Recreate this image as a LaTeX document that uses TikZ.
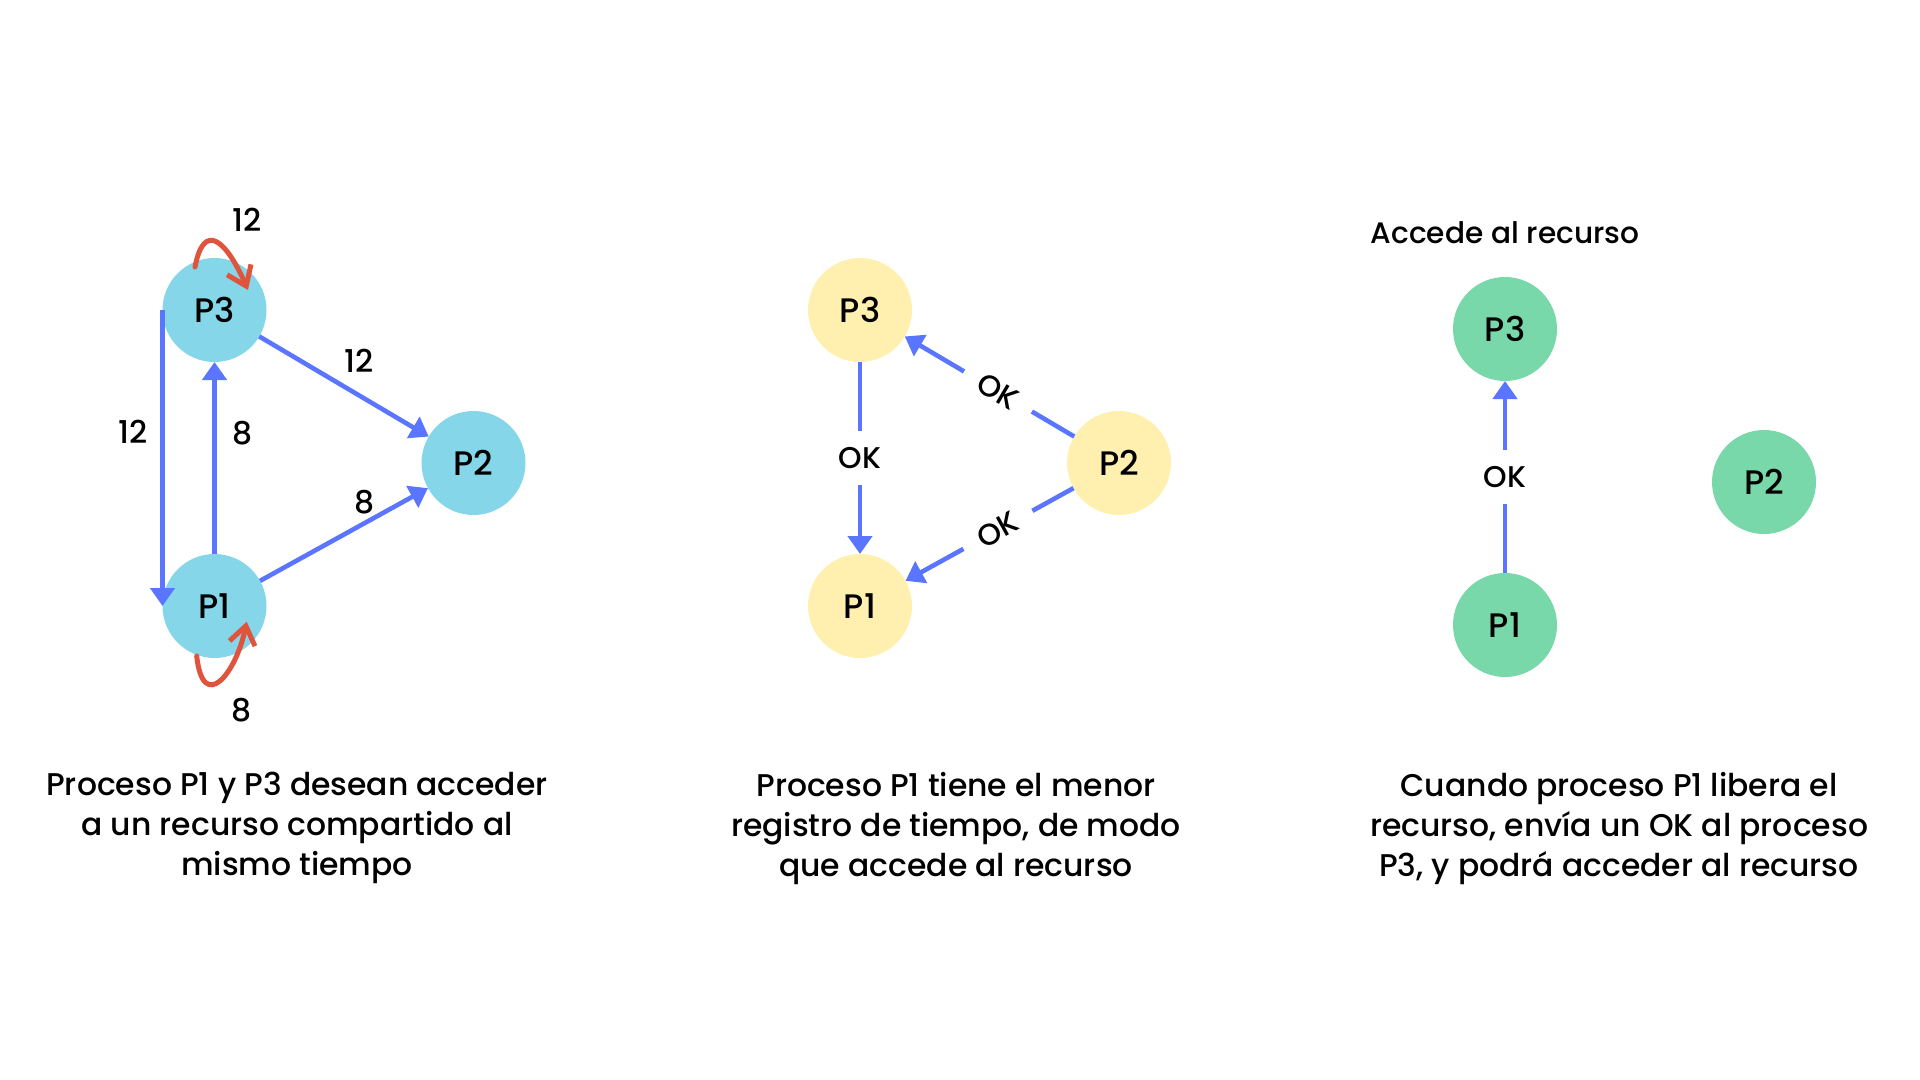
\documentclass[tikz,border=0pt]{standalone}
\usepackage{fontspec}
\setmainfont{Poppins}[UprightFont=* Medium]
\usepackage{tikz}
\usetikzlibrary{positioning}
\usetikzlibrary{calc}
\usetikzlibrary{arrows.meta}
\definecolor{cyanproc}{HTML}{86D6E9}
\definecolor{yellowproc}{HTML}{FFF0B0}
\definecolor{greenproc}{HTML}{78D8A9}
\definecolor{msgblue}{HTML}{5A75FF}
\definecolor{loopred}{HTML}{E0533D}

\begin{document}
\begin{tikzpicture}[x=0.5pt, y=-0.5pt, on grid, >={Triangle[length=9pt, width=12pt]}, ->,
  proc/.style={circle, minimum size=52pt, inner sep=0pt, outer sep=0pt, font=\fontsize{17}{20}\selectfont},
  conn/.style={every edge/.style={draw=msgblue, line width=2.3pt}},
  num/.style={font=\fontsize{15.7}{18}\selectfont},
  oklbl/.style={fill=white, inner xsep=9pt, inner ysep=8pt, font=\fontsize{15}{18}\selectfont},
  selfloop/.style={draw=loopred, line width=2.5pt, line cap=round, -{Straight Barb[length=9pt, width=13pt]}},
  caption/.style={align=center, anchor=north, inner sep=0pt, font=\fontsize{15.7}{20}\selectfont}]

  \useasboundingbox (0,0) rectangle (1920,1080);

  % both processes ask at the same time
  \node[proc, fill=cyanproc] (P3) at (214.5,310) {P3};
  \node[proc, fill=cyanproc] (P1) [below = 148pt of P3] {P1};
  \node[proc, fill=cyanproc] (P2) [below right = 76.5pt and 129.5pt of P3] {P2};

  \path[conn]
    (P3.west) edge node [num, left=3pt, pos=0.41] {12} (P1.west)
    (P1) edge node [num, right=4.5pt, pos=0.63] {8} (P3)
    (P3) edge node [num, above right, pos=0.45] {12} (P2)
    (P1) edge node [num, above, pos=0.62] {8} (P2)
  ;

  \coordinate (l3s) at ($(P3)+(-19.5,-43)$);
  \coordinate (l3e) at ($(P3)+(33.5,-20)$);
  \coordinate (l1s) at ($(P1)+(-17.8,50)$);
  \coordinate (l1e) at ($(P1)+(32.2,15.7)$);
  \draw[selfloop] (l3s) .. controls ($(P3)+(-10.5,-90)$) and ($(P3)+(12,-69)$) .. (l3e);
  \draw[selfloop] (l1s) .. controls ($(P1)+(-11.5,108)$) and ($(P1)+(21.5,68)$) .. (l1e);
  \node[num] (t3) at ($(P3)+(32.5,-90)$) {12};
  \node[num] (t1) at ($(P1)+(27.5,104)$) {8};

  % P2 answers both, P3 answers P1
  \node[proc, fill=yellowproc] (Q3) at (860,310) {P3};
  \node[proc, fill=yellowproc] (Q1) [below = 148pt of Q3] {P1};
  \node[proc, fill=yellowproc] (Q2) [below right = 76.5pt and 129.5pt of Q3] {P2};

  \path[conn]
    (Q3) edge node [oklbl] {OK} (Q1)
    (Q2) edge node [oklbl, sloped, pos=0.45] {OK} (Q3)
    (Q2) edge node [oklbl, sloped, pos=0.45] {OK} (Q1)
  ;

  % P1 releases the resource
  \node[proc, fill=greenproc] (R3) at (1505,329) {P3};
  \node[proc, fill=greenproc] (R1) [below = 148pt of R3] {P1};
  \node[proc, fill=greenproc] (R2) [below right = 76.5pt and 129.5pt of R3] {P2};
  \node[font=\fontsize{14.8}{17}\selectfont] (acc) [above = 48pt of R3] {Accede al recurso};

  \path[conn]
    (R1) edge node [oklbl] {OK} (R3)
  ;

  \node[caption] (capA) at (297,772) {Proceso P1 y P3 desean acceder\\a un recurso compartido al\\mismo tiempo};
  \node[caption] (capB) at (956,772) {Proceso P1 tiene el menor\\registro de tiempo, de modo\\que accede al recurso};
  \node[caption] (capC) at (1619,772) {Cuando proceso P1 libera el\\recurso, envía un OK al proceso\\P3, y podrá acceder al recurso};
\end{tikzpicture}
\end{document}
